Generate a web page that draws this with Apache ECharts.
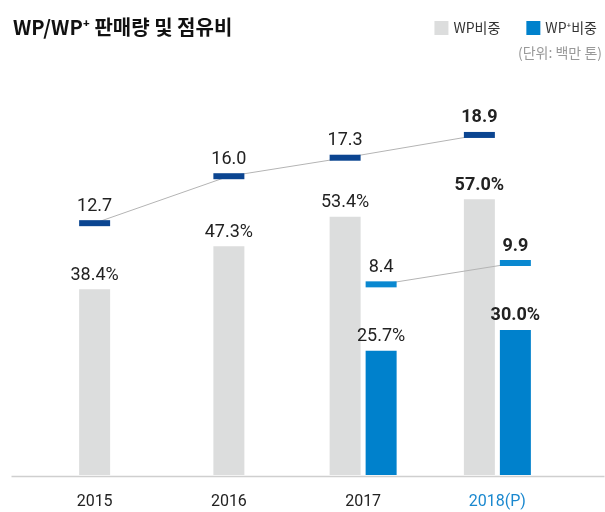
<!DOCTYPE html>
<html>
<head>
<meta charset="utf-8">
<script src="https://cdn.jsdelivr.net/npm/echarts@6/dist/echarts.min.js"></script>
<style>
  html, body { margin: 0; padding: 0; background: #fff; }
  #main { width: 605px; height: 512px; }
</style>
</head>
<body>
<div id="main"></div>
<script>
// 데이터
var years = ['2015', '2016', '2017', '2018(P)'];
var wpShare = [38.4, 47.3, 53.4, 57.0];        // WP비중 (%)
var wpPlusShare = [null, null, 25.7, 30.0];    // WP+비중 (%)
var wpSales = [12.7, 16.0, 17.3, 18.9];        // WP 판매량 (백만 톤)
var wpPlusSales = [null, null, 8.4, 9.9];      // WP+ 판매량 (백만 톤)
var boldIndex = 3;                             // 2018(P) 강조

var chart = echarts.init(document.getElementById('main'));

var numFont = 'Roboto, "Noto Sans", sans-serif';
var krFont = '"Noto Sans CJK KR", "Noto Sans", sans-serif';
var barW = 31;
var barGapPx = 5;
var pairOffset = barW / 2 + barGapPx / 2;

function barData(arr, keep) {
    return arr.map(function (v, i) {
        if (v == null || !keep(i)) return null;
        return {
            value: v,
            label: { fontWeight: i === boldIndex ? 'bold' : 'normal' }
        };
    });
}
function hasPair(i) { return wpPlusShare[i] != null; }

// 판매량 꺾은선 (마커는 막대 위치에 맞춤)
function salesSeries(name, values, color, side) {
    var data = [];
    values.forEach(function (v, i) { if (v != null) data.push([i, v]); });
    function pos(api, d) {
        var p = api.coord([d[0], d[1]]);
        var dx = hasPair(d[0]) ? side * pairOffset : 0;
        return [p[0] + dx, p[1]];
    }
    return {
        name: name,
        type: 'custom',
        xAxisIndex: 0,
        yAxisIndex: 1,
        data: data,
        z: 5,
        renderItem: function (params, api) {
            var idx = params.dataIndex;
            var cur = pos(api, data[idx]);
            var children = [];
            if (idx > 0) {
                var prev = pos(api, data[idx - 1]);
                children.push({
                    type: 'line', z2: 0,
                    shape: { x1: prev[0], y1: prev[1], x2: cur[0], y2: cur[1] },
                    style: { stroke: '#b4b4b4', lineWidth: 1 }
                });
            }
            children.push({
                type: 'rect', z2: 10,
                shape: { x: cur[0] - barW / 2, y: cur[1] - 3, width: barW, height: 6 },
                style: { fill: color }
            });
            children.push({
                type: 'text', z2: 10,
                style: {
                    text: data[idx][1].toFixed(1),
                    x: cur[0], y: cur[1] - 17,
                    align: 'center', verticalAlign: 'middle',
                    fontFamily: numFont, fontSize: 18,
                    fontWeight: data[idx][0] === boldIndex ? 'bold' : 'normal',
                    fill: '#222'
                }
            });
            return { type: 'group', children: children };
        }
    };
}

var barLabel = {
    show: true,
    position: 'top',
    distance: 5,
    formatter: function (p) { return p.value.toFixed(1) + '%'; },
    fontFamily: numFont,
    fontSize: 18,
    color: '#222'
};

var option = {
    animation: false,
    title: {
        text: 'WP/WP⁺ 판매량 및 점유비',
        left: 8,
        top: 12,
        textStyle: { fontFamily: krFont, fontSize: 20, fontWeight: 'bold', color: '#111' }
    },
    legend: {
        data: ['WP비중', 'WP⁺비중'],
        right: 3,
        top: 16,
        icon: 'rect',
        itemWidth: 14,
        itemHeight: 14,
        itemGap: 26,
        textStyle: { fontFamily: krFont, fontSize: 14, color: '#333' }
    },
    graphic: [
        {
            type: 'text', right: 3, top: 46,
            style: { text: '(단위: 백만 톤)', fontFamily: krFont, fontSize: 14, fill: '#999' }
        },
        {
            type: 'line', left: 9, top: 474,
            shape: { x1: 0, y1: 0, x2: 593, y2: 0 },
            style: { stroke: '#cfcfcf', lineWidth: 1.5 },
            z: 1
        }
    ],
    grid: { left: 27.5, right: 40.5, top: 88, bottom: 37 },
    xAxis: [
        {
            type: 'category',
            data: years.map(function (y, i) {
                return i === boldIndex ? { value: y, textStyle: { color: '#1a88cf' } } : y;
            }),
            axisLine: { show: false },
            axisTick: { show: false },
            axisLabel: { margin: 19, fontFamily: numFont, fontSize: 16, color: '#222' }
        },
        {
            type: 'category',
            data: years,
            show: false
        }
    ],
    yAxis: [
        { type: 'value', min: 0, max: 80, show: false },
        { type: 'value', min: -5, max: 22.2, show: false }
    ],
    series: [
        {
            name: 'WP비중',
            type: 'bar',
            xAxisIndex: 1,
            barWidth: barW,
            itemStyle: { color: '#dcdddd' },
            label: barLabel,
            data: barData(wpShare, function (i) { return !hasPair(i); })
        },
        {
            name: 'WP비중',
            type: 'bar',
            xAxisIndex: 0,
            barWidth: barW,
            barGap: (barGapPx / barW * 100) + '%',
            itemStyle: { color: '#dcdddd' },
            label: barLabel,
            data: barData(wpShare, hasPair)
        },
        {
            name: 'WP⁺비중',
            type: 'bar',
            xAxisIndex: 0,
            barWidth: barW,
            itemStyle: { color: '#0081cc' },
            label: barLabel,
            data: barData(wpPlusShare, hasPair)
        },
        salesSeries('WP 판매량', wpSales, '#0b4591', -1),
        salesSeries('WP⁺ 판매량', wpPlusSales, '#0a88d0', 1)
    ]
};

chart.setOption(option);
</script>
</body>
</html>
